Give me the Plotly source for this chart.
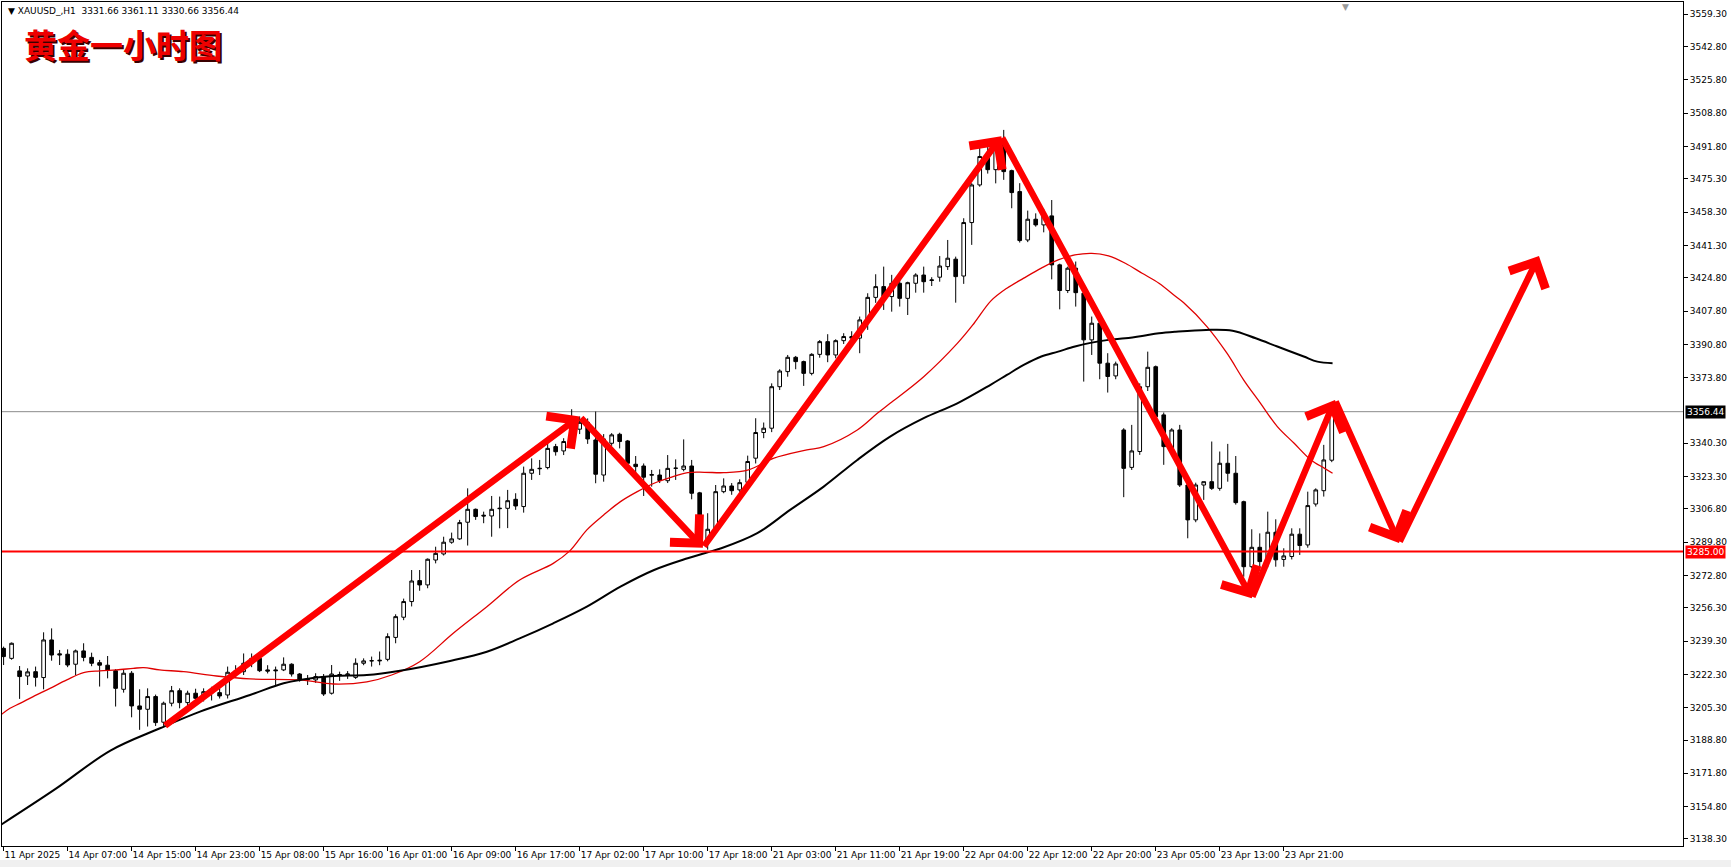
import plotly.graph_objects as go

# ---------------- data ----------------
bar_index = list(range(167))

opens = [3235.6,3230.5,3224.1,3221.5,3223.7,3220.7,3239.9,3232.8,3232.6,3227.5,
         3234.3,3231.0,3228.3,3227.0,3224.2,3214.7,3222.9,3206.2,3204.5,3211.0,
         3197.9,3207.6,3214.0,3207.9,3212.7,3210.1,3213.5,3213.0,3211.8,3223.4,
         3223.7,3228.0,3230.5,3224.6,3224.6,3224.6,3227.5,3222.5,3219.8,3219.5,
         3221.2,3212.7,3222.0,3222.0,3220.8,3228.0,3229.2,3229.2,3230.0,3241.2,
         3251.5,3259.5,3270.2,3268.0,3280.7,3283.8,3289.8,3291.5,3300.0,3306.6,
         3303.6,3303.2,3306.9,3307.1,3311.7,3308.0,3325.0,3327.3,3327.9,3338.6,
         3336.4,3342.9,3347.5,3351.0,3342.0,3324.1,3340.3,3344.9,3341.5,3329.6,
         3328.7,3324.0,3324.1,3321.2,3327.5,3327.0,3328.7,3315.0,3291.0,3296.0,
         3315.6,3318.5,3316.5,3320.4,3332.7,3345.8,3348.0,3369.2,3376.9,3384.2,
         3382.0,3376.0,3385.7,3392.2,3385.4,3392.7,3394.8,3394.0,3403.3,3414.8,
         3420.3,3415.2,3422.0,3414.3,3422.0,3426.2,3423.4,3425.1,3430.5,3434.3,
         3425.7,3453.0,3472.2,3486.7,3480.0,3495.2,3479.5,3468.8,3444.1,3454.7,
         3451.8,3456.4,3431.4,3418.3,3429.7,3416.9,3393.1,3401.6,3381.2,3374.7,
         3347.1,3328.0,3336.1,3369.2,3379.4,3354.8,3337.8,3347.1,3319.0,3301.2,
         3319.0,3320.7,3317.3,3330.1,3325.0,3310.5,3277.3,3287.2,3279.9,3294.9,
         3281.0,3282.5,3293.9,3288.4,3309.3,3316.1,3331.66]
highs = [3236.5,3238.6,3226.6,3225.4,3226.3,3243.8,3245.8,3234.8,3235.1,3235.0,
         3238.2,3233.4,3229.7,3231.7,3225.0,3224.6,3224.0,3214.7,3215.2,3212.0,
         3208.4,3216.4,3215.2,3214.0,3215.0,3215.2,3216.0,3217.8,3226.3,3227.0,
         3233.0,3233.0,3232.6,3227.0,3226.3,3231.0,3228.0,3223.0,3222.0,3222.9,
         3222.5,3227.1,3223.7,3224.0,3230.5,3230.5,3231.4,3234.0,3243.3,3253.0,
         3261.0,3275.6,3275.6,3281.5,3287.5,3292.6,3294.7,3301.2,3317.3,3307.0,
         3305.4,3313.4,3313.1,3316.5,3314.8,3328.4,3332.6,3331.8,3340.3,3340.0,
         3342.9,3357.7,3354.0,3353.0,3356.5,3345.0,3345.5,3345.7,3342.0,3333.8,
         3330.0,3326.7,3327.0,3334.3,3332.1,3342.3,3331.8,3315.5,3304.6,3319.0,
         3322.4,3320.0,3321.9,3334.0,3353.1,3350.9,3370.9,3378.1,3385.4,3384.9,
         3382.5,3386.3,3393.0,3396.0,3393.4,3396.5,3397.5,3405.0,3416.9,3426.6,
         3430.5,3426.3,3425.4,3422.8,3427.1,3430.5,3425.1,3435.9,3444.1,3435.6,
         3455.2,3473.1,3494.3,3494.3,3496.0,3500.3,3480.0,3473.1,3459.1,3457.7,
         3460.0,3464.5,3432.0,3430.5,3433.1,3418.0,3405.0,3403.0,3386.3,3382.0,
         3348.0,3349.7,3370.9,3387.1,3380.0,3356.0,3348.0,3349.7,3320.0,3320.2,
         3320.7,3341.2,3336.1,3340.0,3333.8,3311.0,3296.4,3294.3,3305.4,3301.5,
         3286.7,3296.9,3296.9,3315.6,3317.3,3339.5,3361.11]
lows = [3227.1,3229.8,3209.8,3216.9,3216.1,3214.7,3229.3,3227.1,3226.0,3222.0,
        3229.0,3226.5,3216.1,3220.3,3205.9,3213.0,3200.4,3194.0,3195.7,3196.0,
        3196.0,3206.0,3205.0,3206.0,3208.0,3208.5,3209.0,3210.0,3210.0,3221.0,
        3222.0,3226.0,3223.5,3222.8,3216.9,3224.0,3221.2,3218.6,3216.9,3218.0,
        3211.3,3212.0,3219.0,3220.0,3220.0,3227.0,3226.3,3227.0,3229.0,3238.2,
        3250.0,3257.0,3265.0,3266.3,3279.0,3283.0,3289.0,3291.0,3288.1,3301.2,
        3299.5,3292.6,3296.9,3297.0,3306.3,3304.9,3321.6,3324.1,3327.0,3334.0,
        3334.3,3342.0,3345.0,3340.0,3319.9,3320.7,3339.0,3337.7,3329.0,3323.3,
        3313.4,3318.2,3320.0,3320.0,3321.6,3326.0,3311.7,3287.6,3286.0,3295.0,
        3314.8,3314.0,3315.5,3319.0,3330.0,3342.9,3346.0,3367.5,3374.3,3378.1,
        3369.6,3375.0,3384.0,3381.7,3383.7,3391.0,3392.0,3386.3,3398.2,3412.0,
        3408.4,3407.5,3410.1,3405.8,3417.2,3417.2,3420.6,3422.8,3428.8,3412.1,
        3421.7,3441.6,3471.3,3478.0,3473.0,3474.8,3460.3,3442.8,3443.0,3450.9,
        3448.0,3424.0,3408.7,3417.0,3410.1,3371.8,3385.4,3373.0,3366.2,3373.0,
        3312.8,3326.7,3334.4,3367.0,3352.0,3329.3,3336.0,3318.0,3291.8,3300.0,
        3311.4,3316.5,3316.1,3320.7,3309.0,3272.2,3276.5,3275.3,3277.0,3277.3,
        3277.3,3281.0,3283.3,3287.0,3308.0,3313.1,3330.66]
closes = [3231.4,3238.2,3221.2,3223.6,3220.8,3239.9,3232.2,3232.3,3227.1,3234.3,
          3231.0,3228.0,3227.0,3224.6,3215.2,3222.9,3206.2,3204.5,3211.0,3197.7,
          3207.6,3214.0,3207.9,3212.7,3210.1,3213.5,3213.0,3211.3,3223.4,3224.0,
          3228.0,3230.5,3224.2,3224.0,3224.2,3227.5,3222.5,3219.5,3219.6,3221.2,
          3212.3,3222.5,3222.2,3222.5,3228.0,3229.2,3229.3,3229.5,3241.6,3251.8,
          3259.5,3270.0,3268.0,3281.1,3284.1,3289.8,3291.5,3299.8,3306.6,3302.9,
          3303.2,3306.6,3307.1,3311.0,3308.3,3325.0,3327.0,3327.5,3337.7,3336.0,
          3341.2,3347.5,3351.0,3342.5,3324.5,3342.5,3344.6,3341.2,3330.1,3328.4,
          3323.0,3324.3,3321.3,3327.5,3327.6,3328.7,3314.8,3291.0,3296.4,3315.6,
          3318.5,3316.1,3320.2,3331.0,3345.8,3348.0,3369.2,3377.2,3384.2,3382.0,
          3376.0,3385.7,3392.2,3385.4,3392.7,3394.8,3394.0,3403.3,3414.8,3420.3,
          3415.2,3422.0,3414.3,3422.3,3426.2,3422.8,3423.7,3430.8,3434.8,3425.4,
          3453.0,3472.2,3486.7,3480.0,3494.0,3479.0,3468.3,3443.8,3454.7,3451.8,
          3456.4,3431.4,3418.3,3429.7,3417.2,3393.1,3401.6,3381.2,3374.4,3380.8,
          3327.5,3336.4,3369.2,3379.1,3353.9,3338.6,3347.1,3319.0,3301.2,3319.0,
          3320.7,3317.3,3330.1,3325.0,3310.0,3277.3,3287.2,3279.9,3294.9,3280.8,
          3282.8,3293.9,3288.1,3308.5,3316.5,3331.8,3356.44]

# moving averages (bar position, price)
ma_red_x = [-0.5,0.8,2.05,3.7,5.8,7.9,10,12,14.1,16.2,17.5,19.5,22.5,26.6,30.8,37,41.2,
            45.4,48.5,52,56.2,60.4,64.5,68.7,70.8,72.9,75,77.1,79.2,81.3,83.4,85.5,87.6,
            90,93.1,96.2,100.4,102.5,106.7,109.2,110.8,115,119.2,121.3,123.4,125.4,127.5,
            129.7,131.8,133.9,136,138.1,140.2,142.3,144.4,146.5,147.5,150.4,152.9,155,
            157.1,159.2,161.3,163.4,165.1,166.1]
ma_red_y = [3201.1,3205.0,3207.5,3211.0,3215.2,3219.5,3223.2,3224.1,3224.6,3225.4,3225.8,
            3224.6,3223.7,3221.5,3220.0,3219.5,3217.4,3218.5,3222.0,3228.8,3243.3,3256.9,
            3270.5,3279.0,3285.5,3296.1,3303.7,3310.5,3315.6,3319.9,3322.9,3325.3,3325.5,
            3325.3,3326.7,3332.6,3336.9,3338.6,3347.1,3355.6,3360.7,3374.3,3391.3,3401.6,
            3413.0,3419.5,3424.6,3429.7,3433.9,3436.5,3437.3,3436.0,3432.2,3427.1,3422.0,
            3415.2,3412.0,3399.9,3386.3,3372.6,3360.7,3348.8,3340.3,3331.8,3327.5,3325.0]
ma_black_x = [-0.5,6.45,13.35,19.55,24.55,30.8,35,37,41.2,45.4,49.55,55.8,60.4,64.5,68.7,
              72.9,77.1,81.3,85.5,87.6,89.7,94.2,98.3,102.5,106.7,110.8,115,119.2,123.4,
              125.4,127.5,129.7,131.8,133.9,136,138.1,140.2,142.3,144.4,146.5,150.3,153.6,
              156.5,159.2,162.5,164.2,166.1]
ma_black_y = [3145.1,3163.7,3183.4,3194.8,3203.3,3211.8,3217.8,3219.5,3221.5,3222.0,3224.2,
              3229.2,3233.9,3240.7,3248.4,3256.9,3267.1,3275.6,3281.6,3284.2,3286.7,3294.4,
              3306.3,3318.2,3331.8,3343.7,3353.1,3360.7,3370.3,3375.2,3380.3,3384.6,3387.1,
              3389.7,3391.7,3393.1,3393.9,3395.1,3396.5,3397.3,3398.2,3397.8,3393.9,3389.7,
              3384.6,3382.0,3381.2]

# hand-drawn arrow path (bar position, price)
arrow_x = [20, 72, 87.4, 124.7, 156, 166.4, 174.4, 191.9]
arrow_y = [3195.6, 3354, 3287, 3497, 3261.2, 3362.4, 3289.4, 3435.9]

x_tick_bars = list(range(0, 161, 8))
x_tick_text = ["11 Apr 2025", "14 Apr 07:00", "14 Apr 15:00", "14 Apr 23:00", "15 Apr 08:00",
               "15 Apr 16:00", "16 Apr 01:00", "16 Apr 09:00", "16 Apr 17:00", "17 Apr 02:00",
               "17 Apr 10:00", "17 Apr 18:00", "21 Apr 03:00", "21 Apr 11:00", "21 Apr 19:00",
               "22 Apr 04:00", "22 Apr 12:00", "22 Apr 20:00", "23 Apr 05:00", "23 Apr 13:00",
               "23 Apr 21:00"]
y_tick_vals = [3559.30, 3542.80, 3525.80, 3508.80, 3491.80, 3475.30, 3458.30, 3441.30, 3424.80,
               3407.80, 3390.80, 3373.80, 3340.30, 3323.30, 3306.80, 3289.80, 3272.80,
               3256.30, 3239.30, 3222.30, 3205.30, 3188.80, 3171.80, 3154.80, 3138.30]

last_price = 3356.44
support_level = 3285.00
symbol_text = "▼ XAUUSD_,H1  3331.66 3361.11 3330.66 3356.44"
title_text = "黄金一小时图"

# ---------------- figure ----------------
fig = go.Figure()

fig.add_trace(go.Scatter(x=ma_red_x, y=ma_red_y, mode="lines", line=dict(color="#e00000", width=1.3, shape="spline"),
                         hoverinfo="skip", showlegend=False))
fig.add_trace(go.Scatter(x=ma_black_x, y=ma_black_y, mode="lines", line=dict(color="#000000", width=2, shape="spline"),
                         hoverinfo="skip", showlegend=False))

fig.add_trace(go.Candlestick(
    x=bar_index, open=opens, high=highs, low=lows, close=closes,
    increasing=dict(line=dict(color="black", width=1), fillcolor="white"),
    decreasing=dict(line=dict(color="black", width=1), fillcolor="black"),
    whiskerwidth=0, showlegend=False))

# horizontal levels
fig.add_shape(type="line", xref="paper", x0=0, x1=1, yref="y", y0=last_price, y1=last_price,
              line=dict(color="#8c8c8c", width=1), layer="below")
fig.add_shape(type="line", xref="paper", x0=0, x1=1, yref="y", y0=support_level, y1=support_level,
              line=dict(color="#ff0000", width=2))

# bottom grey band
fig.add_shape(type="rect", xref="paper", yref="paper", x0=-0.01, x1=1.05, y0=-0.0166, y1=-0.03,
              fillcolor="#f0f0f0", line=dict(width=0), layer="below")

# arrows
for k in range(len(arrow_x) - 1):
    fig.add_annotation(x=arrow_x[k + 1], y=arrow_y[k + 1], ax=arrow_x[k], ay=arrow_y[k],
                       xref="x", yref="y", axref="x", ayref="y", text="",
                       showarrow=True, arrowhead=4, arrowsize=1.2, arrowwidth=6.5,
                       arrowcolor="#ff0000", standoff=0)

# price labels on right axis
fig.add_annotation(xref="paper", x=1.0, xanchor="left", xshift=2, y=last_price, yref="y",
                   text="%.2f" % last_price, showarrow=False, bgcolor="#000000",
                   font=dict(family="DejaVu Sans", size=9, color="white"), borderpad=1)
fig.add_annotation(xref="paper", x=1.0, xanchor="left", xshift=2, y=support_level, yref="y",
                   text="%.2f" % support_level, showarrow=False, bgcolor="#ff0000",
                   font=dict(family="DejaVu Sans", size=9, color="white"), borderpad=1)

# symbol header
fig.add_annotation(xref="paper", yref="paper", x=0, y=1, xanchor="left", yanchor="top",
                   xshift=4, yshift=-2, text=symbol_text, showarrow=False,
                   font=dict(family="DejaVu Sans", size=9, color="black"))
# title with shadow
fig.add_annotation(xref="paper", yref="paper", x=0, y=1, xanchor="left", yanchor="top",
                   xshift=22, yshift=-18, text="<b>%s</b>" % title_text, showarrow=False,
                   font=dict(family="Noto Sans CJK SC", size=33, color="#3a0000"))
fig.add_annotation(xref="paper", yref="paper", x=0, y=1, xanchor="left", yanchor="top",
                   xshift=20, yshift=-16, text="<b>%s</b>" % title_text, showarrow=False,
                   font=dict(family="Noto Sans CJK SC", size=33, color="#ee0000"))
# chart shift marker
fig.add_annotation(xref="x", yref="paper", x=167.7, y=1, yanchor="top", text="▼", showarrow=False,
                   font=dict(size=9, color="#9a9a9a"), yshift=2)

fig.update_layout(
    width=1731, height=867,
    margin=dict(l=2, r=48, t=2, b=21, autoexpand=False),
    paper_bgcolor="white", plot_bgcolor="white",
    boxgap=0.35,
    showlegend=False,
    font=dict(family="DejaVu Sans", size=9, color="black"),
    xaxis=dict(range=[-0.2, 209.9], rangeslider=dict(visible=False), showgrid=False, zeroline=False,
               tickmode="array", tickvals=x_tick_bars, ticktext=x_tick_text, tickangle=0,
               ticks="outside", ticklen=4, tickcolor="black", ticklabelposition="outside right",
               showline=True, linecolor="black", linewidth=1, mirror=True, automargin=False,
               tickfont=dict(family="DejaVu Sans", size=9, color="black")),
    yaxis=dict(range=[3134.7, 3565.6], side="right", showgrid=False, zeroline=False,
               tickmode="array", tickvals=y_tick_vals, ticktext=["%.2f" % v for v in y_tick_vals],
               ticks="outside", ticklen=4, tickcolor="black", automargin=False,
               showline=True, linecolor="black", linewidth=1, mirror=True,
               tickfont=dict(family="DejaVu Sans", size=9, color="black")),
)

fig.write_html("out.html", config={"displayModeBar": False},
               post_script="document.body.style.margin='0';")
